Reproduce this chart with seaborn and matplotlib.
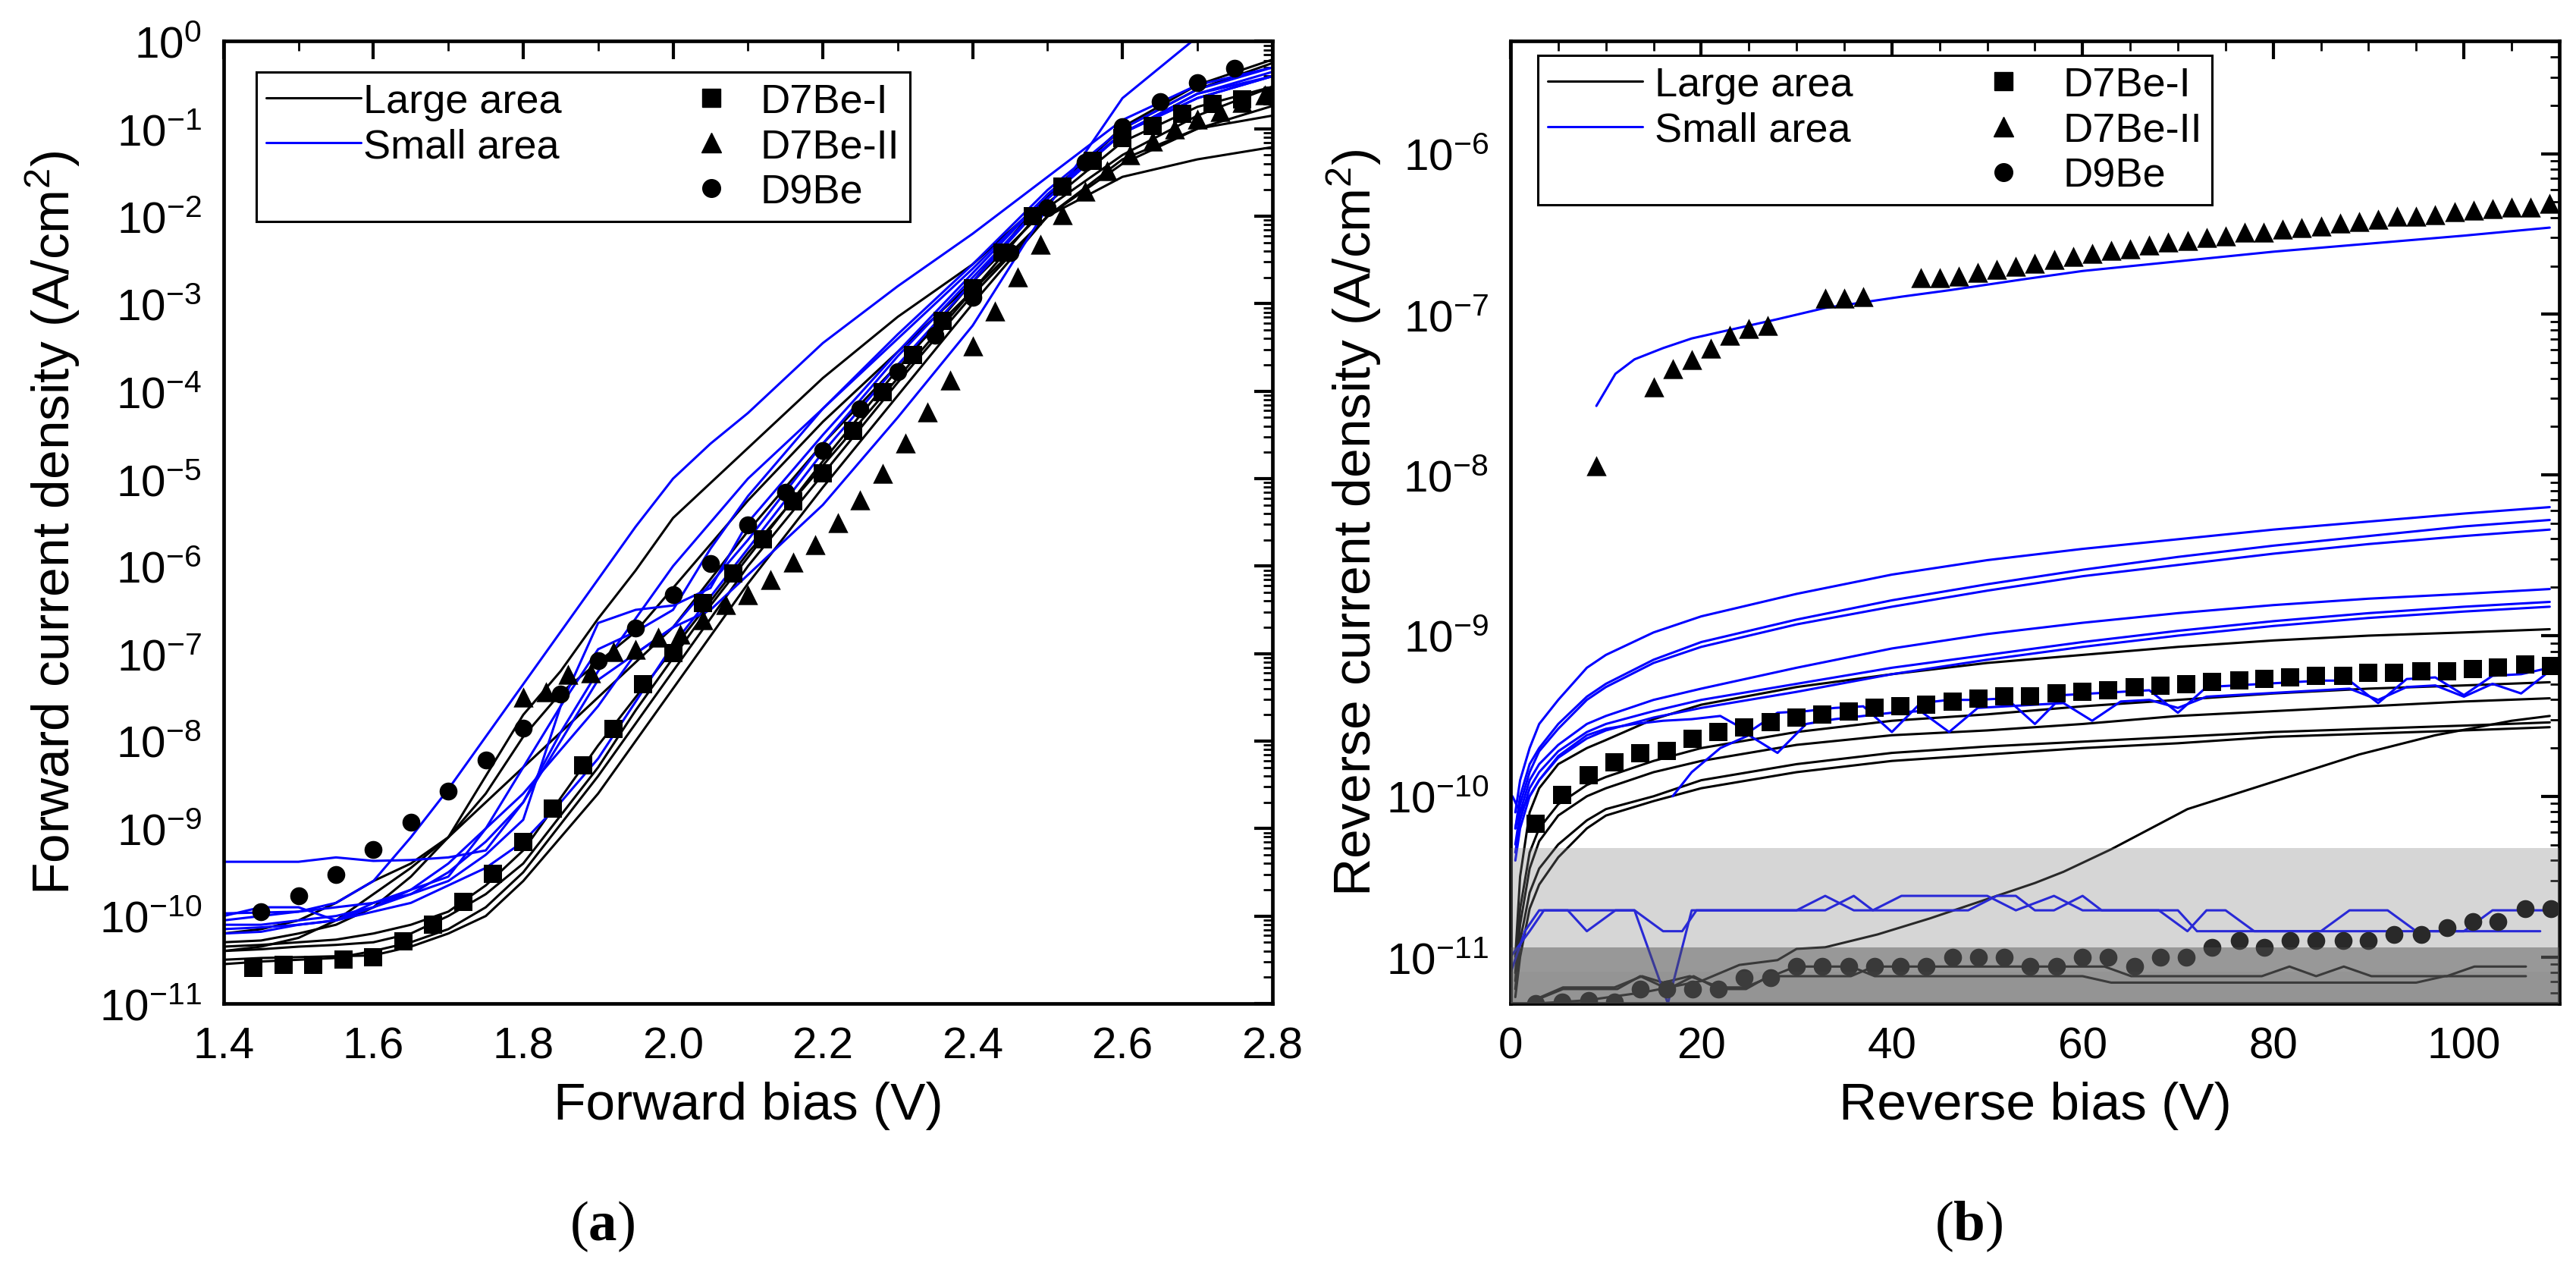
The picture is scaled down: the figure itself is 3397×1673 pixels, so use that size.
import matplotlib
matplotlib.use("Agg")
import matplotlib.pyplot as plt
import seaborn as sns
import numpy as np
import pandas as pd
from matplotlib.ticker import MultipleLocator, LogLocator, NullFormatter
from matplotlib.lines import Line2D

sns.set_theme(style="white")
plt.rcParams['font.family'] = ['Liberation Sans', 'DejaVu Sans']
plt.rcParams['mathtext.fontset'] = 'custom'
plt.rcParams['mathtext.rm'] = 'Liberation Sans'
plt.rcParams['mathtext.bf'] = 'Liberation Serif:bold'
plt.rcParams['mathtext.default'] = 'regular'
for k in ['axes.edgecolor', 'xtick.color', 'ytick.color', 'text.color', 'axes.labelcolor']:
    plt.rcParams[k] = 'black'

BLUE = '#0000ff'

# ---------------- (a) forward bias, values are log10(J) ----------------
grid_a = [1.40, 1.45, 1.50, 1.55, 1.60, 1.65, 1.70, 1.75, 1.80, 1.85, 1.90,
          1.95, 2.00, 2.05, 2.10, 2.20, 2.30, 2.40, 2.50, 2.60, 2.70, 2.80]

large_a = {
    'L1': [-10.20, -10.15, -10.05, -9.85, -9.60, -9.40, -9.10, -8.40, -7.70, -7.20, -6.60,
           -6.05, -5.45, -5.05, -4.65, -3.85, -3.15, -2.55, -1.78, -0.98, -0.50, -0.21],
    'L2': [-10.30, -10.28, -10.20, -10.10, -9.90, -9.55, -9.10, -8.60, -7.95, -7.45, -7.10,
           -6.75, -6.25, -5.75, -5.25, -4.35, -3.55, -2.75, -1.90, -1.30, -0.85, -0.52],
    'L3': [-10.40, -10.35, -10.25, -10.05, -9.75, -9.45, -9.10, -8.70, -8.30, -7.90, -7.50,
           -7.10, -6.70, -6.15, -5.60, -4.60, -3.70, -2.85, -2.00, -1.40, -1.00, -0.74],
    'L4': [-10.35, -10.33, -10.30, -10.27, -10.20, -10.10, -9.95, -9.65, -9.25, -8.65, -8.05,
           -7.50, -6.95, -6.40, -5.85, -4.85, -3.85, -2.85, -1.85, -1.15, -0.75, -0.52],
    'L5': [-10.50, -10.48, -10.47, -10.46, -10.45, -10.35, -10.20, -10.00, -9.60, -9.10, -8.60,
           -8.00, -7.40, -6.80, -6.20, -5.10, -4.05, -3.00, -2.00, -1.55, -1.35, -1.21],
    'L6': [-10.55, -10.52, -10.50, -10.48, -10.40, -10.30, -10.15, -9.90, -9.50, -8.95, -8.40,
           -7.80, -7.20, -6.60, -6.00, -4.95, -3.90, -2.90, -2.00, -1.35, -1.00, -0.85],
    'L7': [-10.40, -10.38, -10.35, -10.33, -10.30, -10.20, -10.00, -9.75, -9.40, -8.85, -8.30,
           -7.65, -7.05, -6.45, -5.90, -4.80, -3.75, -2.75, -1.75, -1.00, -0.55, -0.25],
}
small_a = {
    'S1': [-9.97, -9.96, -9.95, -9.85, -9.60, -9.10, -8.55, -7.95, -7.35, -6.75, -6.15,
           -5.55, -5.00, -4.60, -4.25, -3.45, -2.80, -2.20, -1.55, -0.90, -0.50, -0.30],
    'S2': [-9.38, -9.38, -9.38, -9.33, -9.37, -9.36, -9.33, -9.25, -8.70, -7.90, -7.20,
           -6.60, -6.00, -5.50, -5.00, -4.20, -3.40, -2.60, -1.75, -1.05, -0.60, -0.35],
    'S3': [-10.00, -9.90, -9.90, -10.05, -9.85, -9.70, -9.55, -9.00, -8.30, -7.60, -6.95,
           -6.75, -6.50, -5.80, -5.20, -4.20, -3.35, -2.55, -1.70, -1.00, -0.55, -0.30],
    'S4': [-10.10, -10.10, -10.05, -10.00, -9.90, -9.75, -9.50, -9.15, -8.70, -8.00, -7.30,
           -7.00, -6.70, -6.20, -5.70, -4.60, -3.60, -2.70, -1.80, -1.05, -0.60, -0.40],
    'S5': [-10.15, -10.13, -10.10, -10.05, -9.95, -9.85, -9.65, -9.45, -9.15, -8.70, -8.20,
           -7.55, -6.90, -6.35, -5.80, -4.70, -3.70, -2.75, -1.80, -1.05, -0.65, -0.40],
    'S6': [-10.20, -10.18, -10.10, -10.05, -9.90, -9.70, -9.40, -9.00, -8.60, -8.10, -7.60,
           -7.00, -6.70, -6.50, -6.10, -5.30, -4.30, -3.25, -1.90, -0.65, 0.05, 0.50],
    'S7': [-10.05, -10.00, -9.95, -9.90, -9.85, -9.75, -9.60, -9.30, -8.90, -7.60, -6.65,
           -6.50, -6.45, -6.25, -5.50, -4.50, -3.55, -2.65, -1.75, -1.05, -0.65, -0.40],
}

d7_1_v_a = [1.44, 1.48, 1.52, 1.56, 1.60, 1.64, 1.68, 1.72, 1.76, 1.80, 1.84, 1.88,
            1.92, 1.96, 2.00, 2.04, 2.08, 2.12, 2.16, 2.20, 2.24, 2.28, 2.32, 2.36,
            2.40, 2.44, 2.48, 2.52, 2.56, 2.60, 2.64, 2.68, 2.72, 2.76, 2.80]
d7_1_j_a = [-10.59, -10.56, -10.56, -10.50, -10.47, -10.29, -10.10, -9.84, -9.52, -9.15,
            -8.77, -8.28, -7.86, -7.35, -6.99, -6.42, -6.08, -5.69, -5.26, -4.94, -4.45,
            -4.01, -3.59, -3.20, -2.82, -2.42, -2.00, -1.66, -1.37, -1.11, -0.97, -0.83,
            -0.72, -0.66, -0.63]
d7_2_v_a = [1.80, 1.83, 1.86, 1.89, 1.92, 1.95, 1.98, 2.01, 2.04, 2.07, 2.10, 2.13,
            2.16, 2.19, 2.22, 2.25, 2.28, 2.31, 2.34, 2.37, 2.40, 2.43, 2.46, 2.49,
            2.52, 2.55, 2.58, 2.61, 2.64, 2.67, 2.70, 2.73, 2.76, 2.79]
d7_2_j_a = [-7.50, -7.44, -7.24, -7.22, -6.98, -6.95, -6.81, -6.78, -6.61, -6.44, -6.33,
            -6.15, -5.95, -5.75, -5.50, -5.24, -4.94, -4.59, -4.24, -3.87, -3.48, -3.08,
            -2.69, -2.32, -1.98, -1.71, -1.48, -1.30, -1.14, -1.00, -0.89, -0.80, -0.70,
            -0.61]
d9_v_a = [1.45, 1.50, 1.55, 1.60, 1.65, 1.70, 1.75, 1.80, 1.85, 1.90, 1.95, 2.00, 2.05,
          2.10, 2.15, 2.20, 2.25, 2.30, 2.35, 2.40, 2.45, 2.50, 2.55, 2.60, 2.65, 2.70, 2.75]
d9_j_a = [-9.95, -9.77, -9.53, -9.24, -8.93, -8.57, -8.22, -7.85, -7.46, -7.08, -6.71,
          -6.33, -5.97, -5.53, -5.16, -4.68, -4.20, -3.78, -3.36, -2.93, -2.42, -1.90,
          -1.38, -0.98, -0.69, -0.47, -0.31]

# ---------------- (b) reverse bias, values are log10(J) ----------------
grid_b = [0.5, 1, 2, 3, 5, 8, 10, 15, 20, 30, 40, 50, 60, 70, 80, 90, 100, 109]

large_b = {
    'L1': [-11.0, -10.5, -10.1, -9.95, -9.8, -9.7, -9.65, -9.52, -9.43, -9.32, -9.24,
           -9.17, -9.12, -9.07, -9.03, -9.0, -8.98, -8.96],
    'L2': [-11.1, -10.7, -10.35, -10.2, -10.05, -9.93, -9.88, -9.78, -9.7, -9.6, -9.53,
           -9.49, -9.44, -9.40, -9.36, -9.33, -9.31, -9.29],
    'L3': [-11.15, -10.8, -10.45, -10.28, -10.12, -10.0, -9.95, -9.85, -9.78, -9.68, -9.62,
           -9.59, -9.55, -9.5, -9.47, -9.44, -9.41, -9.39],
    'L4': [-11.2, -10.9, -10.6, -10.45, -10.3, -10.15, -10.08, -10.0, -9.9, -9.8, -9.73,
           -9.69, -9.66, -9.63, -9.6, -9.58, -9.56, -9.54],
    'L5': [-11.25, -11.0, -10.7, -10.55, -10.38, -10.2, -10.12, -10.03, -9.95, -9.85, -9.78,
           -9.74, -9.7, -9.67, -9.63, -9.61, -9.59, -9.57],
}
small_b = {
    'S1': [-10.1, -9.9, -9.7, -9.55, -9.4, -9.2, -9.12, -8.98, -8.88, -8.74, -8.62,
           -8.53, -8.46, -8.40, -8.34, -8.29, -8.24, -8.20],
    'S2': [-10.2, -10.0, -9.8, -9.7, -9.55, -9.38, -9.3, -9.15, -9.04, -8.9, -8.78,
           -8.68, -8.59, -8.51, -8.44, -8.38, -8.32, -8.28],
    'S3': [-10.2, -10.05, -9.85, -9.72, -9.58, -9.4, -9.32, -9.17, -9.07, -8.93, -8.82,
           -8.72, -8.63, -8.56, -8.49, -8.43, -8.38, -8.34],
    'S4': [-10.3, -10.1, -9.9, -9.8, -9.68, -9.55, -9.5, -9.4, -9.33, -9.2, -9.08,
           -8.99, -8.92, -8.86, -8.81, -8.77, -8.74, -8.71],
    'S5': [-10.35, -10.15, -9.95, -9.85, -9.72, -9.6, -9.55, -9.47, -9.4, -9.3, -9.2,
           -9.12, -9.04, -8.97, -8.91, -8.86, -8.82, -8.79],
    'S6': [-10.4, -10.2, -10.0, -9.9, -9.76, -9.64, -9.59, -9.51, -9.45, -9.35, -9.24,
           -9.15, -9.07, -9.0, -8.94, -8.89, -8.85, -8.82],
}

# curves with their own voltage points
rise_v = [0, 8, 14, 20, 24, 28, 30, 33, 38.5, 44, 50, 55, 58, 63, 71, 80, 89, 97, 105, 109]
rise_j = [-11.3, -11.27, -11.22, -11.15, -11.05, -11.02, -10.95, -10.94, -10.86, -10.76,
          -10.64, -10.54, -10.47, -10.33, -10.08, -9.91, -9.74, -9.62, -9.53, -9.50]
floor1_v = [0.3, 2.6, 5.5, 11.2, 13.6, 16.5, 19.2, 21.8, 24.7, 27.1, 35.7, 38.1, 62.3,
            65.1, 78.8, 81.7, 84.5, 87.4, 90.3, 98.2, 101.1, 106.5]
floor1_j = [-11.35, -11.27, -11.20, -11.20, -11.12, -11.20, -11.12, -11.20, -11.20, -11.12,
            -11.12, -11.06, -11.06, -11.12, -11.12, -11.06, -11.12, -11.06, -11.12, -11.12,
            -11.06, -11.06]
floor2_v = [0.3, 2, 5.5, 10.9, 13.8, 16, 18.8, 22, 24.6, 27.4, 29.9, 35.7, 38.2, 60, 63,
            95, 98, 106.5]
floor2_j = [-11.35, -11.28, -11.19, -11.19, -11.12, -11.16, -11.12, -11.19, -11.19, -11.12,
            -11.06, -11.06, -11.12, -11.12, -11.16, -11.16, -11.12, -11.12]

top_v = [9, 11, 13, 16, 19, 22, 28, 33, 41, 46, 54, 60, 70, 80, 90, 100, 109]
top_j = [-7.57, -7.37, -7.28, -7.21, -7.15, -7.11, -7.03, -6.96, -6.89, -6.85, -6.78,
         -6.73, -6.67, -6.61, -6.56, -6.51, -6.46]
zig1_v = [0.2, 1, 3, 5, 8, 10, 13, 16, 19, 22, 25, 28, 31, 34, 37, 40, 43, 46, 49, 52,
          55, 58, 61, 64, 67, 70, 73, 76, 79, 82, 85, 88, 91, 94, 97, 100, 103, 106, 109]
zig1_j = [-10.0, -10.1, -9.9, -9.75, -9.62, -9.58, -9.55, -9.53, -9.52, -9.5, -9.6, -9.48,
          -9.47, -9.45, -9.44, -9.6, -9.42, -9.4, -9.4, -9.39, -9.55, -9.37, -9.36, -9.35,
          -9.34, -9.48, -9.32, -9.31, -9.3, -9.29, -9.28, -9.28, -9.42, -9.27, -9.26, -9.37,
          -9.25, -9.24, -9.2]
zig2_v = [17, 19, 22, 25, 28, 31, 34, 37, 40, 43, 46, 49, 52, 55, 58, 61, 64, 67, 70, 73,
          76, 79, 82, 85, 88, 91, 94, 97, 100, 103, 106, 109]
zig2_j = [-10.0, -9.85, -9.7, -9.62, -9.73, -9.55, -9.52, -9.5, -9.48, -9.47, -9.6, -9.45,
          -9.44, -9.43, -9.42, -9.53, -9.41, -9.4, -9.45, -9.38, -9.37, -9.36, -9.35, -9.34,
          -9.33, -9.4, -9.32, -9.31, -9.38, -9.3, -9.36, -9.22]
noise1_v = [0, 1.5, 3, 13, 16.5, 19, 30, 33, 36, 38, 41, 45, 50, 53, 57, 60, 70, 72, 75,
            85, 88, 92, 95, 100, 103, 109]
noise1_j = [-11.1, -10.84, -10.71, -10.71, -11.29, -10.71, -10.71, -10.62, -10.71, -10.71,
            -10.62, -10.62, -10.62, -10.71, -10.62, -10.71, -10.71, -10.84, -10.84, -10.84,
            -10.71, -10.71, -10.84, -10.84, -10.71, -10.71]
noise2_v = [0, 2, 3.5, 6, 8, 11, 13, 16, 18, 19.5, 33, 36, 38, 48, 51, 53, 55, 57, 60, 62,
            68, 71, 73, 75, 78, 108]
noise2_j = [-11.0, -10.84, -10.71, -10.71, -10.84, -10.71, -10.71, -10.84, -10.84, -10.71,
            -10.71, -10.62, -10.71, -10.71, -10.62, -10.62, -10.71, -10.71, -10.62, -10.71,
            -10.71, -10.84, -10.71, -10.71, -10.84, -10.84]

d7_1_v_b = [2.6, 5.4, 8.2, 10.9, 13.6, 16.4, 19.1, 21.8, 24.5, 27.3, 30.0, 32.7, 35.5, 38.2,
            40.9, 43.6, 46.4, 49.1, 51.8, 54.5, 57.3, 60.0, 62.7, 65.5, 68.2, 70.9, 73.6,
            76.4, 79.1, 81.8, 84.5, 87.3, 90.0, 92.7, 95.5, 98.2, 100.9, 103.6, 106.4, 109.1]
d7_1_j_b = [-10.17, -9.99, -9.87, -9.79, -9.73, -9.72, -9.64, -9.60, -9.57, -9.54, -9.51,
            -9.49, -9.47, -9.45, -9.44, -9.43, -9.41, -9.39, -9.38, -9.38, -9.36, -9.35,
            -9.34, -9.32, -9.31, -9.30, -9.29, -9.28, -9.27, -9.26, -9.25, -9.25, -9.23,
            -9.23, -9.22, -9.22, -9.21, -9.20, -9.18, -9.19]
d7_2_v_b = [9, 15, 17, 19, 21, 23, 25, 27, 33, 35, 37, 43, 45, 47, 49, 51, 53, 55, 57, 59,
            61, 63, 65, 67, 69, 71, 73, 75, 77, 79, 81, 83, 85, 87, 89, 91, 93, 95, 97, 99,
            101, 103, 105, 107, 109]
d7_2_j_b = [-7.94, -7.45, -7.34, -7.28, -7.21, -7.13, -7.09, -7.07, -6.90, -6.90, -6.89,
            -6.77, -6.77, -6.76, -6.74, -6.72, -6.70, -6.68, -6.66, -6.64, -6.62, -6.60,
            -6.59, -6.57, -6.55, -6.54, -6.52, -6.51, -6.49, -6.49, -6.47, -6.46, -6.45,
            -6.43, -6.42, -6.41, -6.39, -6.39, -6.38, -6.36, -6.35, -6.34, -6.33, -6.33,
            -6.31]
d9_v_b = d7_1_v_b
d9_j_b = [-11.29, -11.28, -11.27, -11.28, -11.20, -11.20, -11.20, -11.20, -11.13, -11.13,
          -11.06, -11.06, -11.06, -11.06, -11.06, -11.06, -11.00, -11.00, -11.00, -11.06,
          -11.06, -11.00, -11.00, -11.06, -11.00, -11.00, -10.94, -10.90, -10.94, -10.90,
          -10.90, -10.90, -10.90, -10.86, -10.86, -10.82, -10.78, -10.78, -10.70, -10.70]

# detection-floor bands in (b), log10(J)
band_light_top = -10.32
band_dark_top = -10.94
band_darker_top = -11.09


def long_df(curves, area, grid=None):
    rows = []
    for name, vals in curves.items():
        vs, js = (grid, vals) if grid is not None else vals
        for v, j in zip(vs, js):
            rows.append({'curve': area + name, 'area': area, 'V': v, 'J': 10.0 ** j})
    return pd.DataFrame(rows)


lines_a = pd.concat([long_df(large_a, 'Large area', grid_a),
                     long_df(small_a, 'Small area', grid_a)])
lines_b = pd.concat([
    long_df(large_b, 'Large area', grid_b),
    long_df({'R': (rise_v, rise_j), 'F1': (floor1_v, floor1_j),
             'F2': (floor2_v, floor2_j)}, 'Large area'),
    long_df(small_b, 'Small area', grid_b),
    long_df({'T': (top_v, top_j), 'Z1': (zig1_v, zig1_j), 'Z2': (zig2_v, zig2_j),
             'N1': (noise1_v, noise1_j), 'N2': (noise2_v, noise2_j)}, 'Small area'),
])

palette = {'Large area': 'black', 'Small area': BLUE}
LW = 2.2
MS = 17

fig = plt.figure(figsize=(33.97, 16.74), dpi=100)
ax_a = fig.add_axes([0.0868, 0.2091, 0.4071, 0.7578])
ax_b = fig.add_axes([0.5864, 0.2091, 0.4071, 0.7578])

for ax, lines, sets in [
    (ax_a, lines_a, [(d7_1_v_a, d7_1_j_a, 's'), (d7_2_v_a, d7_2_j_a, '^'), (d9_v_a, d9_j_a, 'o')]),
    (ax_b, lines_b, [(d7_1_v_b, d7_1_j_b, 's'), (d7_2_v_b, d7_2_j_b, '^'), (d9_v_b, d9_j_b, 'o')]),
]:
    sns.lineplot(data=lines, x='V', y='J', hue='area', units='curve', estimator=None,
                 sort=False, palette=palette, linewidth=LW, legend=False, ax=ax)
    for vs, js, mk in sets:
        sns.scatterplot(x=vs, y=[10.0 ** j for j in js], marker=mk, color='black',
                        s=MS ** 2 if mk != '^' else (MS + 2) ** 2, linewidth=0,
                        ax=ax, zorder=4, legend=False)
    ax.set_yscale('log')
    ax.yaxis.set_major_locator(LogLocator(base=10, numticks=30))
    ax.yaxis.set_minor_locator(LogLocator(base=10, subs=np.arange(2, 10), numticks=30))
    ax.yaxis.set_minor_formatter(NullFormatter())
    ax.tick_params(which='both', direction='in', top=True, right=True, labelsize=42, pad=21)
    ax.tick_params(which='major', length=17, width=3)
    ax.tick_params(which='minor', length=9, width=2)
    for sp in ax.spines.values():
        sp.set_linewidth(3.4)
        sp.set_color('black')
    ax.grid(False)

ax_a.set_xlim(1.4, 2.8)
ax_a.set_ylim(1e-11, 1)
ax_a.xaxis.set_major_locator(MultipleLocator(0.2))
ax_a.xaxis.set_minor_locator(MultipleLocator(0.1))
ax_a.set_xlabel('Forward bias (V)', fontsize=50)
ax_a.set_ylabel('Forward current density (A/cm$^2$)', fontsize=50)
ax_a.yaxis.set_label_coords(-0.163, 0.5)

ax_b.set_xlim(0, 110)
ax_b.set_ylim(10 ** -11.29, 10 ** -5.30)
ax_b.xaxis.set_major_locator(MultipleLocator(20))
ax_b.xaxis.set_minor_locator(MultipleLocator(5))
ax_b.set_xlabel('Reverse bias (V)', fontsize=50)
ax_b.set_ylabel('Reverse current density (A/cm$^2$)', fontsize=50)
ax_b.yaxis.set_label_coords(-0.149, 0.5)

ybot = 10 ** -11.29
ax_b.axhspan(ybot, 10 ** band_light_top, color=(0.5, 0.5, 0.5), alpha=0.32, lw=0, zorder=6)
ax_b.axhspan(ybot, 10 ** band_dark_top, color=(0.3, 0.3, 0.3), alpha=0.45, lw=0, zorder=6)
ax_b.axhspan(ybot, 10 ** band_darker_top, color=(0.4, 0.4, 0.4), alpha=0.08, lw=0, zorder=6)

for ax in (ax_a, ax_b):
    ax.xaxis.set_label_coords(0.5, -0.106)
    ax.xaxis.label.set_va('center')
    ax.yaxis.label.set_va('center')

handles = [Line2D([], [], color='black', lw=LW),
           Line2D([], [], color=BLUE, lw=LW),
           Line2D([], [], alpha=0),
           Line2D([], [], marker='s', ls='none', color='black', ms=MS),
           Line2D([], [], marker='^', ls='none', color='black', ms=MS + 2),
           Line2D([], [], marker='o', ls='none', color='black', ms=MS)]
labels = ['Large area', 'Small area', '', 'D7Be-I', 'D7Be-II', 'D9Be']

for ax, anchor, tpad in [(ax_a, (0.031, 0.968), 0.05), (ax_b, (0.026, 0.985), 0.3)]:
    leg = ax.legend(handles, labels, ncol=2, loc='upper left', bbox_to_anchor=anchor,
                    borderaxespad=0, fontsize=39, frameon=True, fancybox=False,
                    edgecolor='black', framealpha=1, handlelength=2.3,
                    handletextpad=tpad, columnspacing=2.5, labelspacing=0.18,
                    borderpad=0.25)
    leg.get_frame().set_linewidth(2.2)
    leg.set_zorder(10)

fig.text(794 / 3397, 1 - 1617 / 1674, r'($\mathbf{a}$)', family='Liberation Serif',
         fontsize=54, ha='center', va='center')
fig.text(2596 / 3397, 1 - 1617 / 1674, r'($\mathbf{b}$)', family='Liberation Serif',
         fontsize=54, ha='center', va='center')

fig.savefig('out.png', dpi=100)
